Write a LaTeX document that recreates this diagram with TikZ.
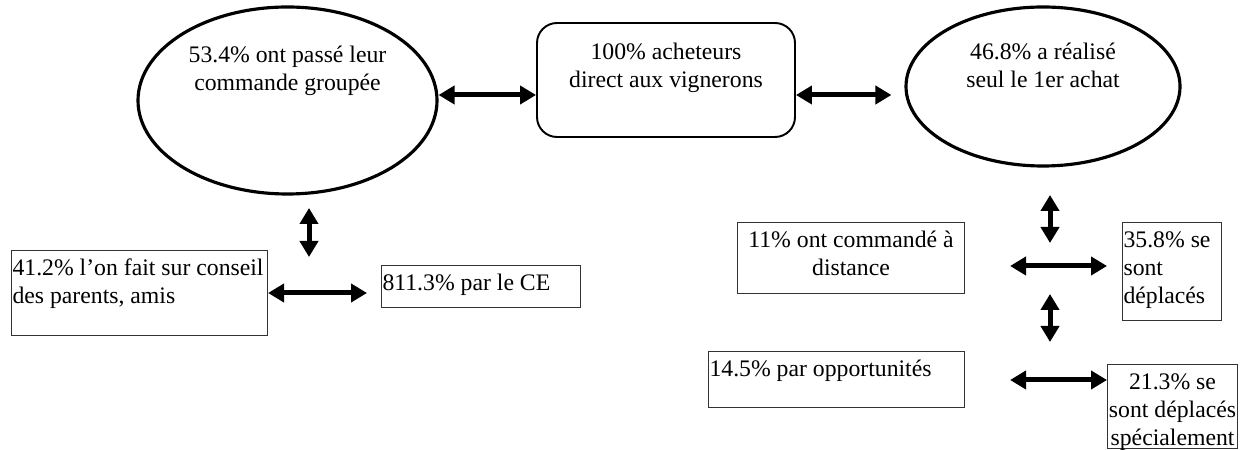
\documentclass[tikz,border=0pt]{standalone}
\usepackage{fontspec}
\setmainfont{Liberation Serif}
\usetikzlibrary{arrows.meta,shapes.geometric,calc}

\newlength{\pxu}
\setlength{\pxu}{0.2mm}
\newcommand{\toptext}[4]{\parbox[c][#2\pxu][t]{#1\pxu}{#3\rule{0pt}{25\pxu}#4}}

\begin{document}
\begin{tikzpicture}[
  x=0.2mm, y=-0.2mm,
  font=\fontsize{13.5}{15.9}\selectfont,
  oval/.style={draw, ellipse, line width=1.8pt, inner sep=0pt},
  hubbox/.style={draw, rounded corners=4mm, line width=1.1pt, inner sep=0pt},
  cell/.style={draw=black!80, line width=0.6pt, anchor=north west, inner xsep=0.2mm, inner ysep=0pt},
  dbl/.style={{Triangle[length=3.2mm,width=3.6mm]}-{Triangle[length=3.2mm,width=3.6mm]}, line width=1mm},
]
  \useasboundingbox (0,0) rectangle (1246,450);

  \node[oval, minimum width=299\pxu, minimum height=187\pxu] (grp) at (287.5,100.5) {%
    \toptext{205}{125}{\centering}{53.4\% ont passé leur\\commande groupée}};
  \node[hubbox, minimum width=258\pxu, minimum height=114\pxu] (hub) at (666,80) {%
    \toptext{240}{90}{\centering}{100\% acheteurs\\direct aux vignerons}};
  \node[oval, minimum width=274\pxu, minimum height=159\pxu] (seul) at (1043,86.5) {%
    \toptext{180}{103}{\centering}{46.8\% a réalisé\\seul le 1er achat}};

  \node[cell] (conseil) at (11,250) {\toptext{254}{85}{\raggedright}{41.2\% l’on fait sur conseil\\des parents, amis}};
  \node[cell] (ce) at (381,265) {\toptext{197}{42}{\raggedright}{811.3\% par le CE}};
  \node[cell] (distance) at (737,222) {\toptext{225}{71}{\centering}{11\% ont commandé à\\distance}};
  \node[cell] (deplaces) at (1122,222) {\toptext{97}{98}{\raggedright}{35.8\% se\\sont\\déplacés}};
  \node[cell] (opport) at (708,351) {\toptext{254}{56}{\raggedright}{14.5\% par opportunités}};
  \node[cell, inner xsep=0pt] (special) at (1107,364) {\toptext{130}{84}{\centering}{21.3\% se\\\mbox{sont déplacés}\\spécialement}};

  \coordinate (lvtop) at (309,208);
  \coordinate (lvbot) at (309,257);
  \coordinate (rvtop) at (1050,195);
  \coordinate (rvmid) at (1050,243);
  \coordinate (rvtop2) at (1050,294);
  \coordinate (rvbot) at (1050,342);

  \draw[dbl] (grp.east |- 0,95) -- (hub.west |- 0,95);
  \draw[dbl] (hub.east |- 0,95) -- ($(seul.west |- 0,95)+(-13,0)$);
  \draw[dbl] (lvtop) -- (lvbot);
  \draw[dbl] (conseil.east |- 0,293) -- ($(ce.west |- 0,293)+(-14,0)$);
  \draw[dbl] (rvtop) -- (rvmid);
  \draw[dbl] ($(distance.east |- 0,266)+(45,0)$) -- ($(deplaces.west |- 0,266)+(-15,0)$);
  \draw[dbl] (rvtop2) -- (rvbot);
  \draw[dbl] ($(opport.east |- 0,380)+(45,0)$) -- (special.west |- 0,380);
\end{tikzpicture}
\end{document}
